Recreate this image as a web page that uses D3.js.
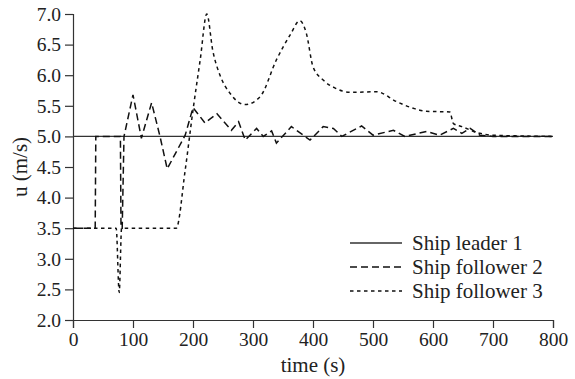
<!DOCTYPE html>
<html>
<head>
<meta charset="utf-8">
<script src="https://cdn.jsdelivr.net/npm/d3@7"></script>
<style>
  body { margin: 0; background: #fff; }
  .axis path, .axis line { stroke: #333; stroke-width: 1.2; }
</style>
</head>
<body>
<div id="chart"></div>
<script>
//
// DATA  (time in s, speed u in m/s)
//
const seriesNames = ['Ship leader 1', 'Ship follower 2', 'Ship follower 3']
const xTicks = [0, 100, 200, 300, 400, 500, 600, 700, 800]
const yTicks = [2.0, 2.5, 3.0, 3.5, 4.0, 4.5, 5.0, 5.5, 6.0, 6.5, 7.0]

const leader = [[0, 5.0], [800, 5.0]]

const follower2 = [
    [0, 3.5], [37, 3.5], [38, 5.0], [79, 5.0], [80, 3.5], [82, 3.5], [85, 5.0],
    [100, 5.68], [114, 4.97], [131, 5.55], [145, 5.0], [157, 4.47], [187, 5.02],
    [200, 5.47], [220, 5.22], [240, 5.37], [264, 5.10], [276, 5.24], [287, 4.94],
    [306, 5.13], [317, 5.0], [331, 5.09], [339, 4.89], [364, 5.16], [395, 4.94],
    [417, 5.16], [434, 5.13], [448, 5.0], [481, 5.17], [500, 5.02], [534, 5.1],
    [553, 5.0], [589, 5.08], [611, 5.02], [634, 5.13], [648, 5.05], [662, 5.13],
    [678, 5.02], [700, 5.0], [800, 5.0]
]

const follower3 = [
    [0, 3.5], [72, 3.5], [77, 2.45], [81, 3.5], [172, 3.5], [187, 4.45],
    [200, 5.43], [212, 6.25], [223, 7.0], [233, 6.4], [245, 6.0], [262, 5.7],
    [287, 5.52], [312, 5.65], [339, 6.25], [362, 6.66], [378, 6.89], [389, 6.68],
    [400, 6.14], [417, 5.92], [437, 5.79], [462, 5.72], [506, 5.73], [539, 5.57],
    [567, 5.46], [589, 5.41], [628, 5.40], [634, 5.21], [648, 5.16], [678, 5.05],
    [700, 5.02], [800, 5.0]
]

//
// GLOBALS
//
const width = 575
const height = 379
const margin = { top: 14, right: 22, bottom: 59, left: 73 }
const serif = '"Liberation Serif"'

// line styles per series, same order as seriesNames
const styles = [
    { color: '#333', w: 1.3, dash: null, curve: d3.curveLinear },
    { color: '#111', w: 1.5, dash: '7,4', curve: d3.curveLinear },
    { color: '#111', w: 1.5, dash: '3.5,3.5', curve: d3.curveMonotoneX }
]

const svg = d3.select('#chart').append('svg')
    .attr('width', width).attr('height', height)

const x = d3.scaleLinear().domain([0, 800]).range([margin.left, width - margin.right])
const y = d3.scaleLinear().domain([2, 7]).range([height - margin.bottom, margin.top])

// axes
const xAxis = svg.append('g')
    .attr('class', 'axis')
    .attr('transform', `translate(0,${height - margin.bottom})`)
    .call(d3.axisBottom(x).tickValues(xTicks).tickSize(8).tickPadding(4).tickFormat(d3.format('d')))
xAxis.selectAll('text')
    .attr('font-family', serif).attr('font-size', 19.5).attr('fill', '#222')

const yAxis = svg.append('g')
    .attr('class', 'axis')
    .attr('transform', `translate(${margin.left},0)`)
    .call(d3.axisLeft(y).tickValues(yTicks).tickSize(8).tickPadding(4).tickFormat(d3.format('.1f')))
yAxis.selectAll('text')
    .attr('font-family', serif).attr('font-size', 19.5).attr('fill', '#222')

// axis titles
svg.append('text')
    .attr('x', (x.range()[0] + x.range()[1]) / 2)
    .attr('y', 372)
    .attr('text-anchor', 'middle')
    .attr('font-family', serif)
    .attr('font-size', 21)
    .attr('fill', '#222')
    .text('time (s)')

svg.append('text')
    .attr('transform', `translate(27,${(y.range()[0] + y.range()[1]) / 2}) rotate(-90)`)
    .attr('text-anchor', 'middle')
    .attr('font-family', serif)
    .attr('font-size', 21)
    .attr('fill', '#222')
    .text('u (m/s)')

// series
const allSeries = [leader, follower2, follower3]
allSeries.forEach((data, i) => {
    const st = styles[i]
    const line = d3.line().x(d => x(d[0])).y(d => y(d[1])).curve(st.curve)
    svg.append('path')
        .datum(data)
        .attr('d', line)
        .attr('fill', 'none')
        .attr('stroke', st.color)
        .attr('stroke-width', st.w)
        .attr('stroke-dasharray', st.dash)
})

// legend
const legend = svg.append('g').attr('transform', 'translate(350,243)')
seriesNames.forEach((name, i) => {
    const st = styles[i]
    const row = legend.append('g').attr('transform', `translate(0,${i * 24})`)
    row.append('line')
        .attr('x1', 0).attr('x2', 52).attr('y1', 0).attr('y2', 0)
        .attr('stroke', st.color)
        .attr('stroke-width', st.w)
        .attr('stroke-dasharray', st.dash)
    row.append('text')
        .attr('x', 62).attr('y', 7)
        .attr('font-family', serif)
        .attr('font-size', 21)
        .attr('fill', '#222')
        .text(name)
})
</script>
</body>
</html>
